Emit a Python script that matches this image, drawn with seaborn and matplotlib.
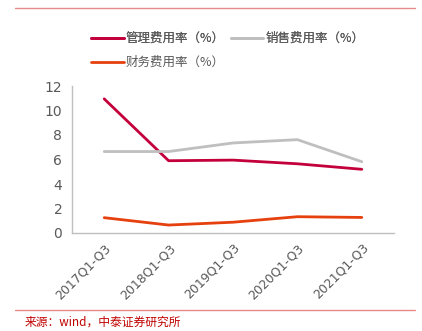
import matplotlib
matplotlib.use("Agg")
import matplotlib.pyplot as plt
import seaborn as sns
import pandas as pd
from matplotlib.lines import Line2D

sns.set_style("white")
plt.rcParams['font.family'] = ['Noto Sans CJK SC', 'DejaVu Sans']

categories = ["2017Q1-Q3", "2018Q1-Q3", "2019Q1-Q3", "2020Q1-Q3", "2021Q1-Q3"]
admin = [10.95, 5.9, 5.95, 5.65, 5.2]
sales = [6.65, 6.65, 7.35, 7.62, 5.82]
finance = [1.25, 0.65, 0.88, 1.33, 1.27]
series_names = ["管理费用率（%）", "销售费用率（%）", "财务费用率（%）"]
colors = ["#C4003C", "#BFBFBF", "#E5400E"]

df = pd.DataFrame({
    "x": list(range(len(categories))) * 3,
    "val": admin + sales + finance,
    "series": [series_names[0]] * 5 + [series_names[1]] * 5 + [series_names[2]] * 5,
})

fig = plt.figure(figsize=(4.22, 3.31), dpi=100)
ax = fig.add_axes([72/422, 1-233/331, (394-72)/422, (233-86)/331])
sns.lineplot(data=df, x="x", y="val", hue="series", palette=colors,
             hue_order=series_names, linewidth=2.0, ax=ax, legend=False)

ax.set_xlim(-0.5, 4.5)
ax.set_ylim(0, 12)
ax.set_yticks(range(0, 13, 2))
ax.set_xticks([i for i in range(len(categories))])
ax.set_xticklabels(categories, rotation=45, ha="right", rotation_mode="anchor",
                   fontsize=9, color="#595959", family="DejaVu Sans")
ax.set_xticks([i - 0.5 for i in range(len(categories) + 1)], minor=True)
ax.tick_params(axis="x", which="major", length=0, pad=6)
ax.tick_params(axis="x", which="minor", length=4, color="#BFBFBF", width=1)
ax.tick_params(axis="y", length=4, color="#BFBFBF", width=1, labelsize=10,
               labelcolor="#595959", pad=3)
for lab in ax.get_yticklabels():
    lab.set_family("DejaVu Sans")
ax.set_xlabel("")
ax.set_ylabel("")
for s in ["top", "right"]:
    ax.spines[s].set_visible(False)
for s in ["left", "bottom"]:
    ax.spines[s].set_color("#BFBFBF")
    ax.spines[s].set_linewidth(1)

# legend
handles = [Line2D([0], [0], color=c, lw=2) for c in colors]
leg1 = fig.legend(handles[:2], series_names[:2], loc="upper left",
                  bbox_to_anchor=(80/422, 1-21/331), ncol=2, frameon=False,
                  fontsize=9, handlelength=2.6, handletextpad=0.15, columnspacing=0.5,
                  labelcolor="#595959")
leg2 = fig.legend(handles[2:], series_names[2:], loc="upper left",
                  bbox_to_anchor=(80/422, 1-45/331), frameon=False,
                  fontsize=9, handlelength=2.6, handletextpad=0.15,
                  labelcolor="#595959")
fig.add_artist(leg1)

# decorative lines and source
fig.add_artist(Line2D([15/422, 415/422], [1-8/331, 1-8/331], color="#E88A8A", lw=1))
fig.add_artist(Line2D([15/422, 415/422], [1-310/331, 1-310/331], color="#E88A8A", lw=1))
fig.text(25/422, 1-322/331, "来源：wind，中泰证券研究所", fontsize=8.5, color="#C00000",
         va="center", ha="left")

fig.savefig("out.png", dpi=100)
